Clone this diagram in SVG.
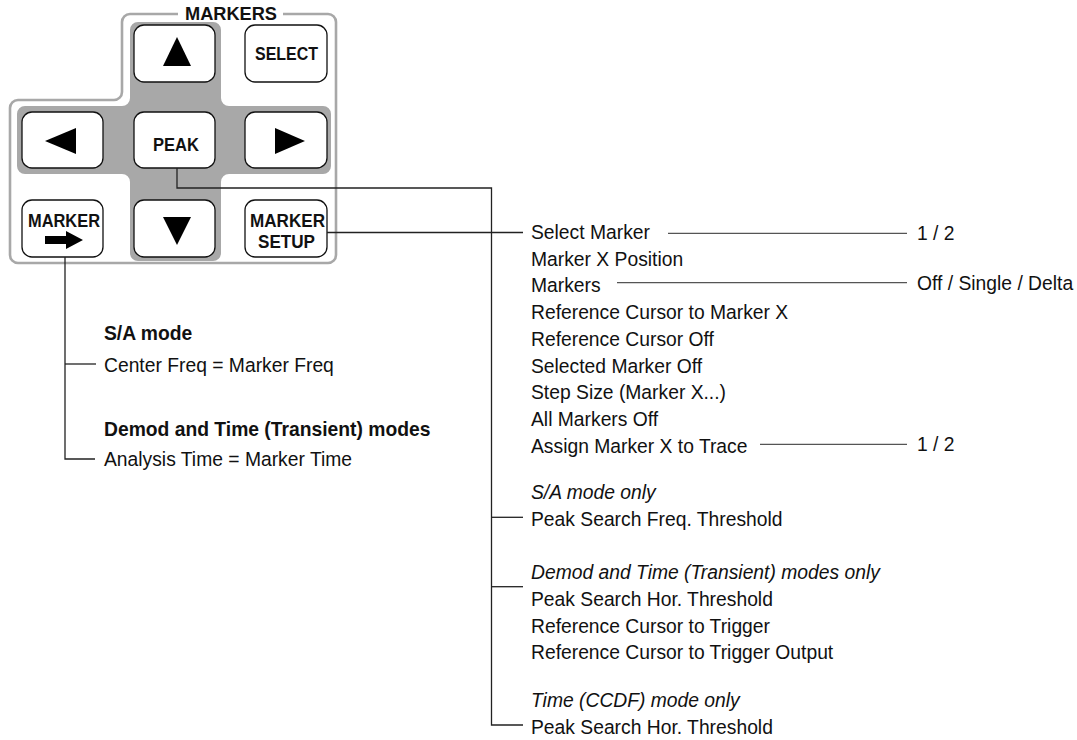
<svg xmlns="http://www.w3.org/2000/svg" width="1077" height="740" viewBox="0 0 1077 740">
<style>
  .t{font-family:"Liberation Sans",Arial,sans-serif;font-size:19.3px;fill:#111}
  .b{font-weight:bold}
  .i{font-style:italic}
  .btn{fill:#fff;stroke:#111;stroke-width:1.3}
  .bl{font-family:"Liberation Sans",Arial,sans-serif;font-size:18px;font-weight:bold;fill:#111}
  .c{fill:none;stroke:#222;stroke-width:1.3}
  .cg{fill:none;stroke:#555;stroke-width:1.3}
</style>
<rect width="1077" height="740" fill="#fff"/>
<g id="panel">
  <path d="M178 14 H130 A8 8 0 0 0 122 22 V92 A8 8 0 0 1 114 100 H18 A8 8 0 0 0 10 108 V255 A8 8 0 0 0 18 263 H328 A8 8 0 0 0 336 255 V22 A8 8 0 0 0 328 14 H283" fill="none" stroke="#a8a8a8" stroke-width="2.6"/>
  <text class="bl" x="231" y="20" text-anchor="middle" textLength="92" lengthAdjust="spacingAndGlyphs">MARKERS</text>
  <path d="M138 22 H213 A8 8 0 0 1 221 30 V98 A8 8 0 0 0 229 106 H323 A8 8 0 0 1 331 114 V166 A8 8 0 0 1 323 174 H229 A8 8 0 0 0 221 182 V253 A8 8 0 0 1 213 261 H138 A8 8 0 0 1 130 253 V182 A8 8 0 0 0 122 174 H25 A8 8 0 0 1 17 166 V114 A8 8 0 0 1 25 106 H122 A8 8 0 0 0 130 98 V30 A8 8 0 0 1 138 22 Z" fill="#a8a8a8"/>
</g>
<g id="btn-up">
  <rect class="btn" x="134" y="25" width="81" height="57" rx="10"/>
  <polygon points="177,37 191,66 163,66" fill="#000"/>
</g>
<g id="btn-select">
  <rect class="btn" x="245" y="25" width="82" height="57" rx="10"/>
  <text class="bl" x="286.5" y="60" text-anchor="middle" textLength="63" lengthAdjust="spacingAndGlyphs">SELECT</text>
</g>
<g id="btn-left">
  <rect class="btn" x="22" y="112" width="81" height="56" rx="10"/>
  <polygon points="45,141 76,128 76,154" fill="#000"/>
</g>
<g id="btn-peak">
  <rect class="btn" x="134" y="112" width="81" height="56" rx="10"/>
  <text class="bl" x="176" y="151" text-anchor="middle" textLength="46" lengthAdjust="spacingAndGlyphs">PEAK</text>
</g>
<g id="btn-right">
  <rect class="btn" x="245" y="112" width="82" height="56" rx="10"/>
  <polygon points="305,141 275,128 275,154" fill="#000"/>
</g>
<g id="btn-marker-to">
  <rect class="btn" x="22" y="200" width="81" height="57" rx="10"/>
  <text class="bl" x="64" y="227" text-anchor="middle" textLength="72" lengthAdjust="spacingAndGlyphs">MARKER</text>
  <path d="M45 236 H66 V231 L83 240 L66 249 V244 H45 Z" fill="#000"/>
</g>
<g id="btn-down">
  <rect class="btn" x="134" y="200" width="81" height="57" rx="10"/>
  <polygon points="177,245 191,217 163,217" fill="#000"/>
</g>
<g id="btn-marker-setup">
  <rect class="btn" x="245" y="200" width="82" height="57" rx="10"/>
  <text class="bl" x="287.5" y="227" text-anchor="middle" textLength="75" lengthAdjust="spacingAndGlyphs">MARKER</text>
  <text class="bl" x="286.5" y="248" text-anchor="middle" textLength="57" lengthAdjust="spacingAndGlyphs">SETUP</text>
</g>
<g id="connectors">
  <path class="c" d="M177 168 V188 H491.5 V725 H523"/>
  <path class="c" d="M491.5 517.3 H523"/>
  <path class="c" d="M491.5 586.7 H523"/>
  <path class="c" d="M327 232.5 H523"/>
  <path class="c" d="M65 257 V459 H95"/>
  <path class="c" d="M65 364 H96"/>
  <path class="cg" d="M668 233.3 H907"/>
  <path class="cg" d="M617 282.7 H907"/>
  <path class="cg" d="M760 444.3 H907"/>
</g>
<g id="marker-to-list">
  <text class="t b" x="104" y="340">S/A mode</text>
  <text class="t" x="104" y="371.5">Center Freq = Marker Freq</text>
  <text class="t b" x="104" y="436">Demod and Time (Transient) modes</text>
  <text class="t" x="104" y="466">Analysis Time = Marker Time</text>
</g>
<g id="setup-list">
  <text class="t" x="531" y="238.8">Select Marker</text>
  <text class="t" x="531" y="265.5">Marker X Position</text>
  <text class="t" x="531" y="292.3">Markers</text>
  <text class="t" x="531" y="319">Reference Cursor to Marker X</text>
  <text class="t" x="531" y="345.8">Reference Cursor Off</text>
  <text class="t" x="531" y="372.5">Selected Marker Off</text>
  <text class="t" x="531" y="399.3">Step Size (Marker X...)</text>
  <text class="t" x="531" y="426">All Markers Off</text>
  <text class="t" x="531" y="452.8">Assign Marker X to Trace</text>
</g>
<g id="values">
  <text class="t" x="917" y="240">1 / 2</text>
  <text class="t" x="917" y="289.5">Off / Single / Delta</text>
  <text class="t" x="917" y="451.3">1 / 2</text>
</g>
<g id="peak-list">
  <text class="t i" x="531" y="499.3">S/A mode only</text>
  <text class="t" x="531" y="526">Peak Search Freq. Threshold</text>
  <text class="t i" x="531" y="579.3">Demod and Time (Transient) modes only</text>
  <text class="t" x="531" y="605.7">Peak Search Hor. Threshold</text>
  <text class="t" x="531" y="632.7">Reference Cursor to Trigger</text>
  <text class="t" x="531" y="659.3">Reference Cursor to Trigger Output</text>
  <text class="t i" x="531" y="707.3">Time (CCDF) mode only</text>
  <text class="t" x="531" y="734.3">Peak Search Hor. Threshold</text>
</g>
</svg>
